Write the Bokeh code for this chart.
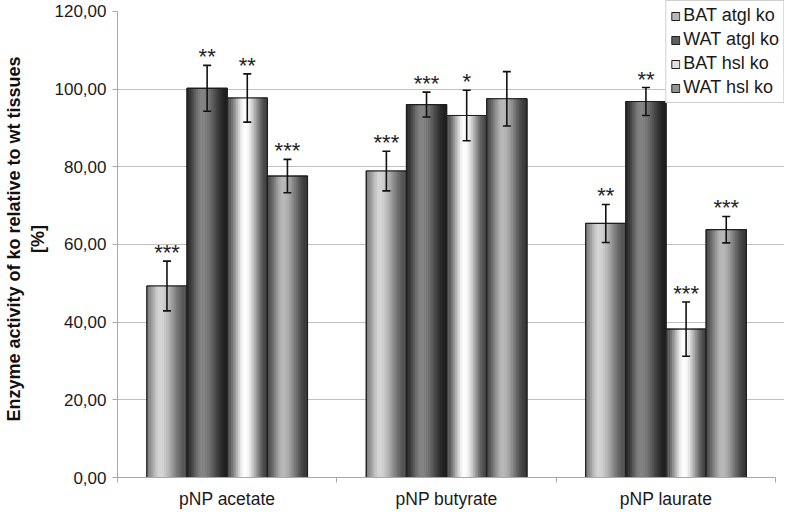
from bokeh.plotting import figure
from bokeh.models import (ColumnDataSource, Whisker, TeeHead, FixedTicker, Legend, LegendItem,
                          CustomJSTickFormatter)
from bokeh.core.properties import value
from bokeh.embed import file_html
from bokeh.resources import INLINE

categories = ["pNP acetate", "pNP butyrate", "pNP laurate"]
series = ["BAT atgl ko", "WAT atgl ko", "BAT hsl ko", "WAT hsl ko"]

bat_atgl = [49.3, 78.9, 65.4]
wat_atgl = [100.2, 96.0, 96.8]
bat_hsl = [97.7, 93.2, 38.2]
wat_hsl = [77.6, 97.5, 63.8]

bat_atgl_err = [6.4, 5.1, 4.9]
wat_atgl_err = [5.9, 3.2, 3.6]
bat_hsl_err = [6.2, 6.5, 7.0]
wat_hsl_err = [4.3, 7.0, 3.4]

bat_atgl_sig = ["***", "***", "**"]
wat_atgl_sig = ["**", "***", "**"]
bat_hsl_sig = ["**", "*", "***"]
wat_hsl_sig = ["***", "", "***"]

y_ticks = [0, 20, 40, 60, 80, 100, 120]

values = [bat_atgl, wat_atgl, bat_hsl, wat_hsl]
errors = [bat_atgl_err, wat_atgl_err, bat_hsl_err, wat_hsl_err]
sigs = [bat_atgl_sig, wat_atgl_sig, bat_hsl_sig, wat_hsl_sig]

# shading profiles (left, peak, right, peak position) and legend swatch colours
profiles = [(0x80, 0xd6, 0x50, 0.33), (0x2c, 0x86, 0x1e, 0.38),
            (0x4c, 0xff, 0x40, 0.45), (0x4c, 0xba, 0x36, 0.40)]
swatch = ["#b8b8b8", "#5e5e5e", "#e0e0e0", "#949494"]

W = 0.183
NS = 18
offsets = [-1.5 * W, -0.5 * W, 0.5 * W, 1.5 * W]


def shade(t, prof):
    lo_l, pk, lo_r, pp = prof
    if t <= pp:
        s = t / pp
        s = s * s * (3 - 2 * s)
        v = lo_l + (pk - lo_l) * s
    else:
        s = (t - pp) / (1 - pp)
        s = s * s * (3 - 2 * s)
        v = pk + (lo_r - pk) * s
    v = int(round(max(0, min(255, v))))
    return "#%02x%02x%02x" % (v, v, v)


p = figure(width=784, height=511, x_range=(0, 3.04), y_range=(0, 122.8),
           output_backend="svg", toolbar_location=None,
           min_border_left=0, min_border_right=0, min_border_top=0, min_border_bottom=29)
p.outline_line_color = None
p.xgrid.grid_line_color = None
p.ygrid.grid_line_color = "#c0c0c0"
p.ygrid.ticker = FixedTicker(ticks=y_ticks[:-1])

legend_items = []
for si in range(4):
    xs = [i + 0.5 + offsets[si] for i in range(len(categories))]
    tops = values[si]
    base = p.vbar(x=xs, top=tops, width=W, fill_color=swatch[si], line_color="#1e1e1e", line_width=1)
    sx, st, sc = [], [], []
    for ci in range(len(categories)):
        for k in range(NS):
            t = (k + 0.5) / NS
            sx.append(xs[ci] - W / 2 + W * t)
            st.append(tops[ci])
            sc.append(shade(t, profiles[si]))
    p.vbar(x=sx, top=st, width=W / NS, fill_color=sc, line_color=sc, line_width=0.6)
    p.vbar(x=xs, top=tops, width=W, fill_color=None, line_color="#1e1e1e", line_width=1.2)
    legend_items.append(LegendItem(label=series[si], renderers=[base]))

    up = [v + e for v, e in zip(values[si], errors[si])]
    lo = [v - e for v, e in zip(values[si], errors[si])]
    src = ColumnDataSource(dict(x=xs, upper=up, lower=lo, sig=sigs[si]))
    wk = Whisker(source=src, base="x", upper="upper", lower="lower", level="overlay",
                 line_color="#111111", line_width=1.6,
                 upper_head=TeeHead(size=8, line_width=1.6, line_color="#111111"),
                 lower_head=TeeHead(size=8, line_width=1.6, line_color="#111111"))
    p.add_layout(wk)
    p.text(x="x", y="upper", text="sig", source=src, text_align="center", text_baseline="bottom",
           text_font=value("Liberation Sans"), text_font_size="22px", text_color="#222222",
           y_offset=4)

legend = Legend(items=legend_items, location="top_right")
legend.label_text_font = "Liberation Sans"
legend.label_text_font_size = "18px"
legend.label_text_color = "#1a1a1a"
legend.glyph_width = 10
legend.glyph_height = 10
legend.spacing = 3
legend.padding = 4
legend.margin = 0
legend.label_standoff = 3
legend.border_line_color = "#a0a0a0"
legend.border_line_width = 1
legend.background_fill_alpha = 1.0
p.add_layout(legend, "center")

# axes
p.yaxis.ticker = FixedTicker(ticks=y_ticks)
p.yaxis.bounds = (0, 120)
p.yaxis.formatter = CustomJSTickFormatter(code="return tick.toFixed(2).replace('.', ',');")
p.yaxis.axis_label = "Enzyme activity of ko relative to wt tissues\n[%]"
p.yaxis.axis_label_text_font = "Liberation Sans"
p.yaxis.axis_label_text_font_style = "bold"
p.yaxis.axis_label_text_font_size = "18px"
p.yaxis.axis_label_text_color = "#111111"
p.yaxis.axis_label_standoff = 4
p.yaxis.major_label_text_font = "Liberation Sans"
p.yaxis.major_label_text_font_size = "17px"
p.yaxis.major_label_text_color = "#1a1a1a"
p.yaxis.major_label_standoff = 6
p.yaxis.axis_line_color = "#a8a8a8"
p.yaxis.major_tick_line_color = "#a8a8a8"
p.yaxis.major_tick_out = 5
p.yaxis.major_tick_in = 0
p.yaxis.minor_tick_line_color = None

p.xaxis.ticker = FixedTicker(ticks=[i + 0.5 for i in range(len(categories))],
                             minor_ticks=list(range(len(categories) + 1)))
p.xaxis.bounds = (0, 3)
p.xaxis.major_label_overrides = {i + 0.5: c for i, c in enumerate(categories)}
p.xaxis.major_label_text_font = "Liberation Sans"
p.xaxis.major_label_text_font_size = "17.5px"
p.xaxis.major_label_text_color = "#1a1a1a"
p.xaxis.major_tick_line_color = None
p.xaxis.minor_tick_line_color = "#a8a8a8"
p.xaxis.minor_tick_out = 5
p.xaxis.minor_tick_in = 0
p.xaxis.axis_line_color = "#a8a8a8"
p.xaxis.major_label_standoff = 5

open("out.html", "w").write(file_html(p, INLINE))
